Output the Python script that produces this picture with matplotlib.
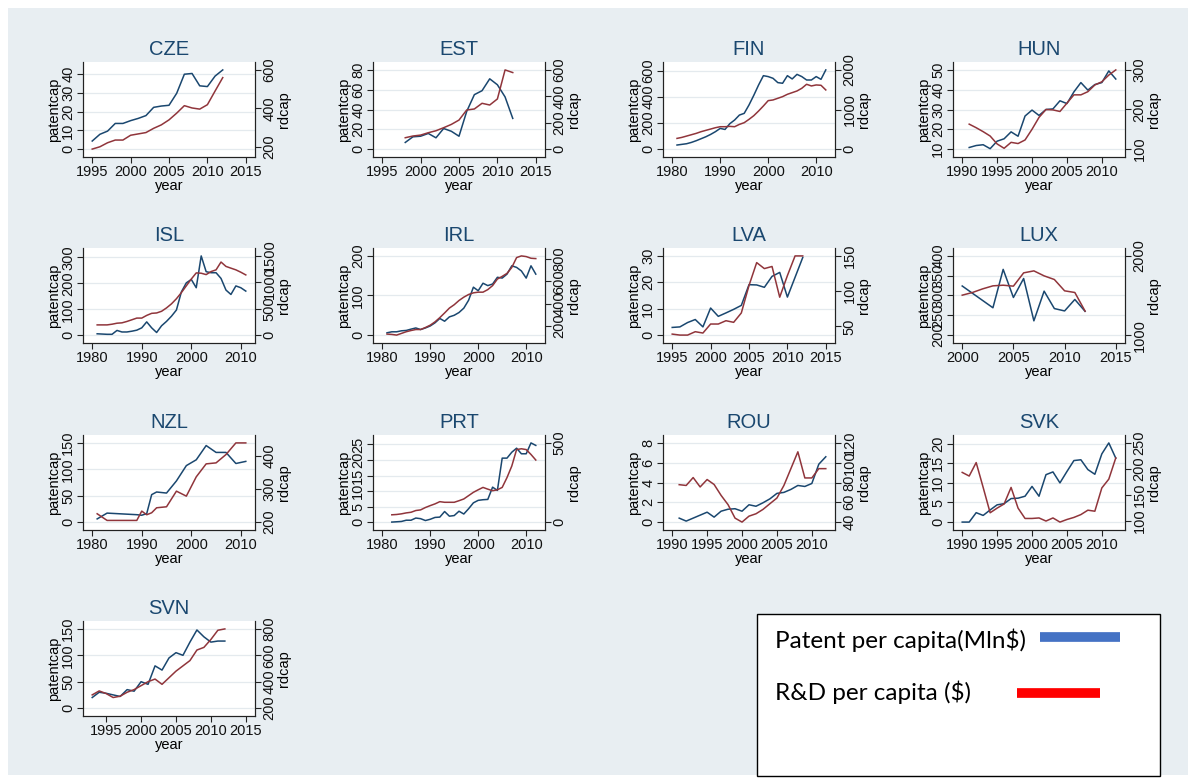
import matplotlib.pyplot as plt
import matplotlib.patches as patches
from matplotlib.lines import Line2D

# per-country series: patents per capita (left axis) and R&D per capita (right axis)
CZE_YEARS = list(range(1995, 2013))
CZE_PAT = [4.3, 7.9, 9.6, 13.7, 13.7, 15.2, 16.4, 17.9, 22.3, 23.0, 23.4, 29.8, 40.0, 40.4, 33.8, 33.4, 39.0, 42.3]
CZE_RD = [188, 200, 221, 235, 235, 260, 267, 274, 296, 314, 340, 375, 414, 402, 396, 419, 490, 560]

EST_YEARS = list(range(1998, 2013))
EST_PAT = [6.7, 12.4, 13.0, 15.8, 11.4, 20.8, 18.0, 13.0, 38.0, 55.0, 59.0, 71.0, 65.0, 52.7, 31.0]
EST_RD = [86, 99, 106, 124, 139, 162, 187, 220, 296, 304, 347, 334, 380, 600, 580]

FIN_YEARS = list(range(1981, 2013))
FIN_PAT = [31, 36, 41, 51, 64, 79, 94, 112, 133, 158, 150, 194, 222, 260, 273, 337,
           411, 490, 561, 554, 541, 508, 503, 561, 536, 571, 554, 528, 528, 554, 533, 605]
FIN_RD = [270, 295, 329, 363, 397, 439, 473, 506, 540, 565, 565, 574, 565, 624, 667, 751,
          844, 962, 1089, 1224, 1241, 1283, 1325, 1384, 1426, 1468, 1536, 1637, 1595, 1620, 1612, 1494]

HUN_YEARS = list(range(1991, 2013))
HUN_PAT = [10.8, 11.8, 12.2, 10.2, 14.0, 15.2, 18.7, 16.5, 26.7, 29.7, 27.0, 30.0, 30.3, 34.4,
           33.0, 38.9, 43.6, 39.8, 42.6, 43.6, 49.5, 45.4]
HUN_RD = [163, 154, 144, 133, 113, 102, 117, 114, 123, 150, 180, 200, 199, 195, 216, 237, 237,
          245, 262, 270, 287, 300]

ISL_YEARS = list(range(1981, 2012))
ISL_PAT = [5, 4, 3, 3, 18, 12, 12, 15, 19, 28, 51, 28, 10, 36, 53, 73, 97, 167, 202, 215, 183,
           306, 245, 241, 241, 219, 174, 157, 190, 183, 170]
ISL_RD = [193, 193, 193, 206, 225, 232, 258, 290, 322, 322, 373, 412, 419, 451, 515, 592, 689,
          805, 934, 1062, 1178, 1172, 1146, 1204, 1236, 1384, 1301, 1268, 1236, 1191, 1140]

IRL_YEARS = list(range(1981, 2013))
IRL_PAT = [5.8, 8.3, 8.3, 10.8, 11.7, 15, 18, 14, 18, 23, 31, 42, 35, 46, 50, 57, 68, 88, 121,
           112, 131, 125, 129, 146, 144, 154, 175, 171, 162, 144, 175, 154]
IRL_RD = [126, 123, 117, 132, 147, 158, 167, 167, 185, 206, 236, 274, 316, 360, 390, 428, 458,
          482, 497, 503, 503, 526, 562, 621, 645, 672, 725, 814, 829, 823, 808, 805]

LVA_YEARS = list(range(1995, 2013))
LVA_PAT = [2.9, 3.1, 4.75, 5.9, 3.1, 10.25, 7.1, 8.4, 9.75, 11.25, 19.1, 19.0, 18.1, 22.25,
           23.75, 14.4, 21.9, 29.4]
LVA_RD = [39, 37.6, 37.6, 42.4, 40.5, 53.3, 53.3, 58, 55.7, 69, 108, 140.5, 132, 135, 91.4,
          122, 150, 150]

LUX_PAT_YEARS = [2000, 2003, 2004, 2005, 2006, 2007, 2008, 2009, 2010, 2011, 2012]
LUX_PAT = [324, 269, 366, 295, 343, 236, 311, 267, 261, 290, 260]
LUX_YEARS = list(range(2000, 2013))
LUX_RD = [1504, 1538, 1584, 1622, 1630, 1618, 1786, 1811, 1748, 1702, 1559, 1538, 1303]

NZL_YEARS = [1981, 1983, 1989, 1990, 1991, 1992, 1993, 1995, 1997, 1999, 2001, 2003, 2005,
             2007, 2009, 2011]
NZL_PAT = [6, 17, 14, 13, 16, 52, 57, 55, 78, 107, 118, 145, 132, 132, 111, 115]
NZL_RD = [225, 205, 205, 233, 222, 228, 243, 246, 293, 278, 336, 375, 378, 403, 438, 438]

PRT_YEARS = list(range(1982, 2013))
PRT_PAT = [0, 0.1, 0.2, 0.6, 0.6, 1.3, 1.1, 0.5, 0.9, 1.5, 1.6, 3.4, 1.9, 2.1, 3.5, 2.6, 4.3,
           6.2, 7.0, 7.2, 7.3, 11.25, 10.2, 20.6, 20.6, 22.5, 23.8, 22.0, 22.0, 25.5, 24.7]
PRT_RD = [46, 48, 52, 58, 62, 73, 77, 92, 104, 115, 129, 125, 125, 125, 135, 146, 167, 188,
          204, 219, 208, 198, 204, 219, 281, 354, 458, 463, 458, 427, 392]

ROU_YEARS = list(range(1991, 2013))
ROU_PAT = [0.4, 0.1, 0.4, 0.7, 1.0, 0.5, 1.1, 1.3, 1.35, 1.1, 1.75, 1.6, 1.95, 2.35, 2.9, 3.0,
           3.3, 3.7, 3.6, 3.9, 5.85, 6.6]
ROU_RD = [77.8, 77, 85, 75.5, 83, 78, 67, 57.6, 44, 40, 46, 48.4, 52.8, 58.6, 64.3, 77, 94,
          111, 84.6, 84.6, 94, 94]

SVK_YEARS = list(range(1990, 2013))
SVK_PAT = [0, 0, 2.4, 1.7, 3.1, 4.4, 4.7, 6.0, 6.1, 6.6, 9.1, 6.6, 12.1, 12.8, 10.0, 12.9,
           15.7, 15.9, 13.4, 12.2, 17.4, 20.2, 16.3]
SVK_RD = [193, 186, 212, 164, 115, 124, 132, 164, 124, 104, 104, 105, 99, 105, 97, 102, 106,
          111.5, 120, 118, 163, 180, 221]

SVN_YEARS = list(range(1993, 2013))
SVN_PAT = [20, 30, 28, 25, 22, 35, 32, 50, 45, 80, 72, 95, 105, 100, 125, 148, 135, 125, 127, 127]
SVN_RD = [300, 330, 310, 280, 290, 320, 340, 370, 400, 420, 380, 430, 480, 520, 560, 640, 660,
          720, 790, 800]

NAVY = '#1a476f'
MAROON = '#90353b'
BG = '#e8eef2'
GRID = '#e4eaee'

W, H = 1196, 781
COL_X = [83, 373, 663, 953]
ROW_Y = [62, 248, 435, 621]
PW, PH = 172, 95
FS = 10.5

plt.rcParams['font.family'] = ['Liberation Sans', 'DejaVu Sans']

fig = plt.figure(figsize=(W / 100, H / 100), dpi=100)
fig.patch.set_facecolor('white')
fig.add_artist(patches.Rectangle((8 / W, 1 - 775 / H), 1180 / W, 767 / H,
                                 transform=fig.transFigure, facecolor=BG,
                                 edgecolor='none', zorder=0))


def padded(vals, ticks, pad):
    lo = min(min(vals), min(ticks))
    hi = max(max(vals), max(ticks))
    span = hi - lo
    return lo - pad * span, hi + pad * span


def panel(col, row, name, years, pat, rd, lticks, rticks, xticks, pat_years=None):
    if pat_years is None:
        pat_years = years
    x0, y0 = COL_X[col], ROW_Y[row]
    ax = fig.add_axes([x0 / W, 1 - (y0 + PH) / H, PW / W, PH / H])
    ax.set_facecolor('white')
    ax2 = ax.twinx()

    ax.plot(pat_years, pat, color=NAVY, lw=1.1, zorder=3)
    ax2.plot(years, rd, color=MAROON, lw=1.1, zorder=3)

    ax.set_xlim(padded(list(years) + list(pat_years), xticks, 0.06))
    ax.set_ylim(padded(pat, lticks, 0.10))
    ax2.set_ylim(padded(rd, rticks, 0.10))
    ax.set_xticks(xticks)
    ax.set_yticks(lticks)
    ax2.set_yticks(rticks)

    ax.yaxis.grid(True, color=GRID, lw=0.9)
    ax.set_axisbelow(True)

    for a in (ax, ax2):
        a.spines['top'].set_visible(False)
        for s in ('left', 'right', 'bottom'):
            a.spines[s].set_color('#222222')
            a.spines[s].set_linewidth(0.8)
        a.tick_params(length=4, width=0.8, color='#222222', labelsize=FS,
                      labelcolor='#111111', pad=1.5)
    for lab in ax.get_yticklabels() + ax2.get_yticklabels():
        lab.set_rotation(90)
        lab.set_va('center')

    ax.set_title(name, color=NAVY, fontsize=14.5, pad=5)
    ax.set_xlabel('year', fontsize=FS, labelpad=0)
    ax.set_ylabel('patentcap', fontsize=FS, labelpad=0.5)
    ax2.set_ylabel('rdcap', fontsize=FS, rotation=90, labelpad=0.5)


panel(0, 0, 'CZE', CZE_YEARS, CZE_PAT, CZE_RD, [0, 10, 20, 30, 40], [200, 400, 600],
      [1995, 2000, 2005, 2010, 2015])
panel(1, 0, 'EST', EST_YEARS, EST_PAT, EST_RD, [0, 20, 40, 60, 80], [0, 200, 400, 600],
      [1995, 2000, 2005, 2010, 2015])
panel(2, 0, 'FIN', FIN_YEARS, FIN_PAT, FIN_RD, [0, 200, 400, 600], [0, 1000, 2000],
      [1980, 1990, 2000, 2010])
panel(3, 0, 'HUN', HUN_YEARS, HUN_PAT, HUN_RD, [10, 20, 30, 40, 50], [100, 200, 300],
      [1990, 1995, 2000, 2005, 2010])
panel(0, 1, 'ISL', ISL_YEARS, ISL_PAT, ISL_RD, [0, 100, 200, 300], [0, 500, 1000, 1500],
      [1980, 1990, 2000, 2010])
panel(1, 1, 'IRL', IRL_YEARS, IRL_PAT, IRL_RD, [0, 100, 200], [200, 400, 600, 800],
      [1980, 1990, 2000, 2010])
panel(2, 1, 'LVA', LVA_YEARS, LVA_PAT, LVA_RD, [0, 10, 20, 30], [50, 100, 150],
      [1995, 2000, 2005, 2010, 2015])
panel(3, 1, 'LUX', LUX_YEARS, LUX_PAT, LUX_RD, [200, 250, 300, 350, 400], [1000, 2000],
      [2000, 2005, 2010, 2015], pat_years=LUX_PAT_YEARS)
panel(0, 2, 'NZL', NZL_YEARS, NZL_PAT, NZL_RD, [0, 50, 100, 150], [200, 300, 400],
      [1980, 1990, 2000, 2010])
panel(1, 2, 'PRT', PRT_YEARS, PRT_PAT, PRT_RD, [0, 5, 10, 15, 20, 25], [0, 500],
      [1980, 1990, 2000, 2010])
panel(2, 2, 'ROU', ROU_YEARS, ROU_PAT, ROU_RD, [0, 2, 4, 6, 8], [40, 60, 80, 100, 120],
      [1990, 1995, 2000, 2005, 2010])
panel(3, 2, 'SVK', SVK_YEARS, SVK_PAT, SVK_RD, [0, 5, 10, 15, 20], [100, 150, 200, 250],
      [1990, 1995, 2000, 2005, 2010])
panel(0, 3, 'SVN', SVN_YEARS, SVN_PAT, SVN_RD, [0, 50, 100, 150], [200, 400, 600, 800],
      [1995, 2000, 2005, 2010, 2015])


# legend box drawn by hand in pixel coordinates
def fx(px):
    return px / W


def fy(py):
    return 1 - py / H


fig.add_artist(patches.Rectangle((fx(757), fy(776)), fx(1160) - fx(757), (776 - 614) / H,
                                 transform=fig.transFigure, facecolor='white',
                                 edgecolor='black', lw=1.0, zorder=5))
fig.text(fx(775), fy(640), 'Patent per capita(Mln\\$)', fontsize=17.5, family='Lato',
         va='center', ha='left', zorder=6)
fig.text(fx(775), fy(692), 'R&D per capita (\\$)', fontsize=17.5, family='Lato',
         va='center', ha='left', zorder=6)
fig.add_artist(Line2D([fx(1040), fx(1120)], [fy(637), fy(637)], color='#4472c4', lw=7,
                      solid_capstyle='butt', transform=fig.transFigure, zorder=6))
fig.add_artist(Line2D([fx(1017), fx(1100)], [fy(693), fy(693)], color='#ff0000', lw=7,
                      solid_capstyle='butt', transform=fig.transFigure, zorder=6))

fig.savefig('out.png', dpi=100, facecolor=fig.get_facecolor())
